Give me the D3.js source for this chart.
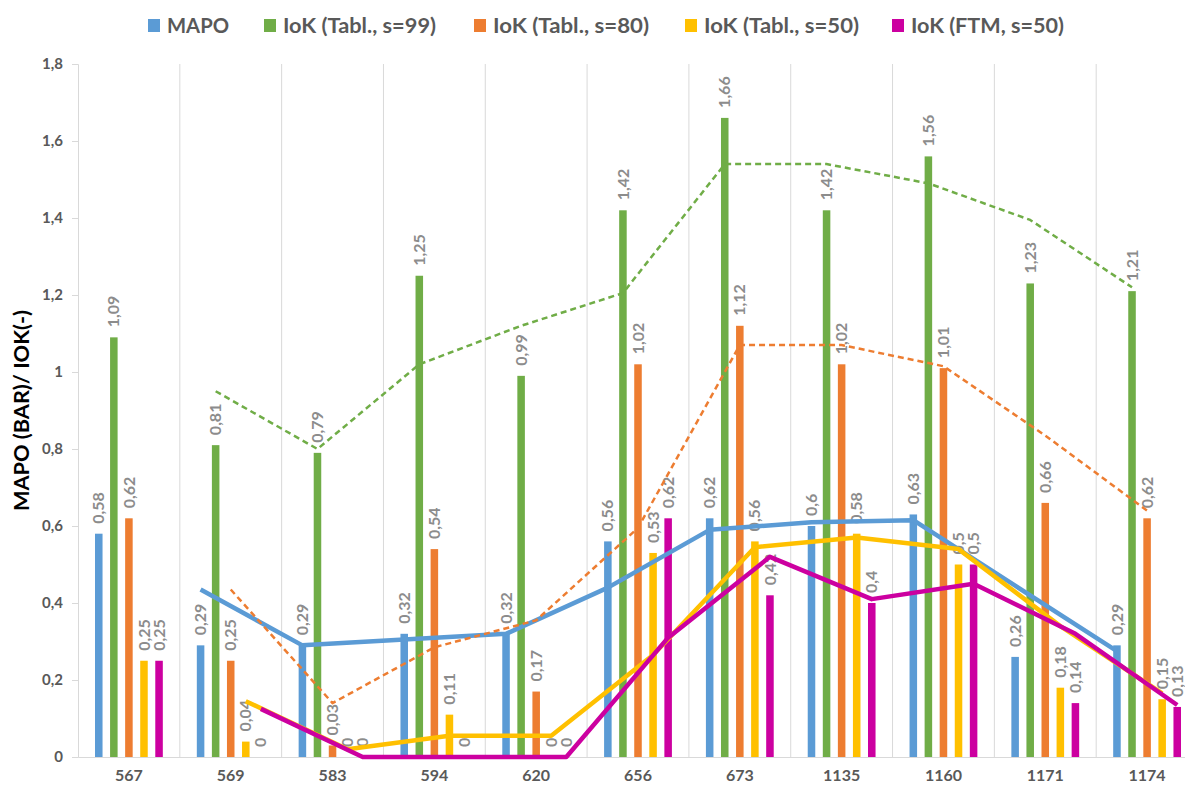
<!DOCTYPE html>
<html>
<head>
<meta charset="utf-8">
<script src="https://cdn.jsdelivr.net/npm/d3@7"></script>
<style>
  html, body { margin: 0; padding: 0; background: #fff; }
  svg { display: block; font-family: Lato, "Open Sans", "DejaVu Sans", sans-serif; }
</style>
</head>
<body>
<svg id="chart" width="1185" height="787"></svg>
<script>
// Measurement points along the x axis
const categories = ["567", "569", "583", "594", "620", "656", "673", "1135", "1160", "1171", "1174"];

// Series values
const mapo  = [0.58, 0.29, 0.29, 0.32, 0.32, 0.56, 0.62, 0.60, 0.63, 0.26, 0.29];
const iok99 = [1.09, 0.81, 0.79, 1.25, 0.99, 1.42, 1.66, 1.42, 1.56, 1.23, 1.21];
const iok80 = [0.62, 0.25, 0.03, 0.54, 0.17, 1.02, 1.12, 1.02, 1.01, 0.66, 0.62];
const iok50 = [0.25, 0.04, 0.00, 0.11, 0.00, 0.53, 0.56, 0.58, 0.50, 0.18, 0.15];
const ftm50 = [0.25, 0.00, 0.00, 0.00, 0.00, 0.62, 0.42, 0.40, 0.50, 0.14, 0.13];

const seriesNames = ["MAPO", "IoK (Tabl., s=99)", "IoK (Tabl., s=80)", "IoK (Tabl., s=50)", "IoK (FTM, s=50)"];
const yTicks = [0, 0.2, 0.4, 0.6, 0.8, 1, 1.2, 1.4, 1.6, 1.8];
const yTitle = "MAPO (BAR)/ IOK(-)";

// Styling per series
const colors = ["#5B9BD5", "#70AD47", "#ED7D31", "#FFC000", "#CC00A0"];
const trendDash = [null, "6,4", "6,4", null, null];
const trendWidth = [4.5, 2.5, 2.5, 4.5, 4.5];

const series = [mapo, iok99, iok80, iok50, ftm50].map((values, i) => ({
  name: seriesNames[i], values, color: colors[i], dash: trendDash[i], width: trendWidth[i]
}));

// Two-period moving average trendline (starts at the second point)
function movingAverage(values, period) {
  const out = [];
  for (let i = period - 1; i < values.length; i++) {
    out.push({ i, v: d3.mean(values.slice(i - period + 1, i + 1)) });
  }
  return out;
}

const locale = d3.formatLocale({ decimal: ",", thousands: ".", grouping: [3], currency: ["", "€"] });
const fmtTick = locale.format(".1~f");
const fmtLabel = locale.format(".2~f");

const svg = d3.select("#chart");
const plot = { left: 78, right: 1198, top: 64, bottom: 757 };

const x = d3.scaleBand().domain(categories).range([plot.left, plot.right]).paddingInner(0).paddingOuter(0);
const bw = x.bandwidth();
const xs = d3.scaleBand().domain(seriesNames).range([bw * 0.13, bw * 0.87]).paddingInner(0.5).paddingOuter(0.25);
const y = d3.scaleLinear().domain([0, 1.8]).range([plot.bottom, plot.top]);

// Vertical category gridlines
svg.append("g")
  .selectAll("line")
  .data(categories.slice(1))
  .join("line")
  .attr("x1", d => x(d)).attr("x2", d => x(d))
  .attr("y1", plot.top).attr("y2", plot.bottom)
  .attr("stroke", "#D9D9D9").attr("stroke-width", 1);

// Y axis
const yAxis = svg.append("g")
  .attr("transform", `translate(${plot.left},0)`)
  .call(d3.axisLeft(y).tickValues(yTicks).tickFormat(fmtTick).tickSize(6).tickPadding(9));
yAxis.select(".domain").attr("stroke", "#D9D9D9");
yAxis.selectAll(".tick line").attr("stroke", "#D9D9D9");
yAxis.selectAll(".tick text")
  .attr("fill", "#595959").attr("font-size", 15).attr("font-weight", "bold")
  .attr("font-family", "Lato, sans-serif");

// X axis
const xAxis = svg.append("g")
  .attr("transform", `translate(0,${plot.bottom})`)
  .call(d3.axisBottom(x).tickSize(0).tickPadding(13));
xAxis.select(".domain").attr("stroke", "#D9D9D9");
xAxis.selectAll(".tick text")
  .attr("fill", "#595959").attr("font-size", 16).attr("font-weight", "bold")
  .attr("font-family", "Lato, sans-serif");

// Y axis title
svg.append("text")
  .attr("transform", `translate(29,${(plot.top + plot.bottom) / 2}) rotate(-90)`)
  .attr("text-anchor", "middle")
  .attr("font-size", 20).attr("font-weight", "bold").attr("fill", "#000")
  .attr("textLength", 201).attr("lengthAdjust", "spacingAndGlyphs")
  .text(yTitle);

// Bars
const groups = svg.append("g").selectAll("g")
  .data(series)
  .join("g")
  .attr("fill", d => d.color);

groups.selectAll("rect")
  .data(s => s.values.map((v, i) => ({ v, cat: categories[i], name: s.name })))
  .join("rect")
  .attr("x", d => x(d.cat) + xs(d.name))
  .attr("width", xs.bandwidth())
  .attr("y", d => y(d.v))
  .attr("height", d => y(0) - y(d.v));

// Value labels, rotated above each bar
const labels = svg.append("g");
series.forEach(s => {
  labels.selectAll(null)
    .data(s.values.map((v, i) => ({ v, cat: categories[i], name: s.name })))
    .join("text")
    .attr("transform", d => `translate(${x(d.cat) + xs(d.name) + xs.bandwidth() / 2},${y(d.v) - 10}) rotate(-90)`)
    .attr("dy", "0.35em")
    .attr("text-anchor", "start")
    .attr("font-size", 16).attr("font-weight", "bold").attr("fill", "#8C8C8C")
    .text(d => fmtLabel(d.v));
});

// Moving-average trendlines through each series' own bar positions
const lineGen = d3.line();
svg.append("g").selectAll("path")
  .data(series)
  .join("path")
  .attr("d", s => lineGen(movingAverage(s.values, 2).map(p =>
    [x(categories[p.i]) + xs(s.name) + xs.bandwidth() / 2, y(p.v)])))
  .attr("fill", "none")
  .attr("stroke", s => s.color)
  .attr("stroke-width", s => s.width)
  .attr("stroke-dasharray", s => s.dash)
  .attr("stroke-linejoin", "round");

// Legend
const legendX = [148, 264, 474, 685, 892];
const legendW = [62, 153, 156, 155, 153];
const legend = svg.append("g").selectAll("g")
  .data(series)
  .join("g")
  .attr("transform", (d, i) => `translate(${legendX[i]},19)`);
legend.append("rect").attr("width", 12).attr("height", 13).attr("fill", d => d.color);
legend.append("text")
  .attr("x", 19).attr("y", 13.5)
  .attr("font-size", 20).attr("font-weight", "bold").attr("fill", "#595959")
  .attr("textLength", (d, i) => legendW[i]).attr("lengthAdjust", "spacingAndGlyphs")
  .text(d => d.name);
</script>
</body>
</html>
